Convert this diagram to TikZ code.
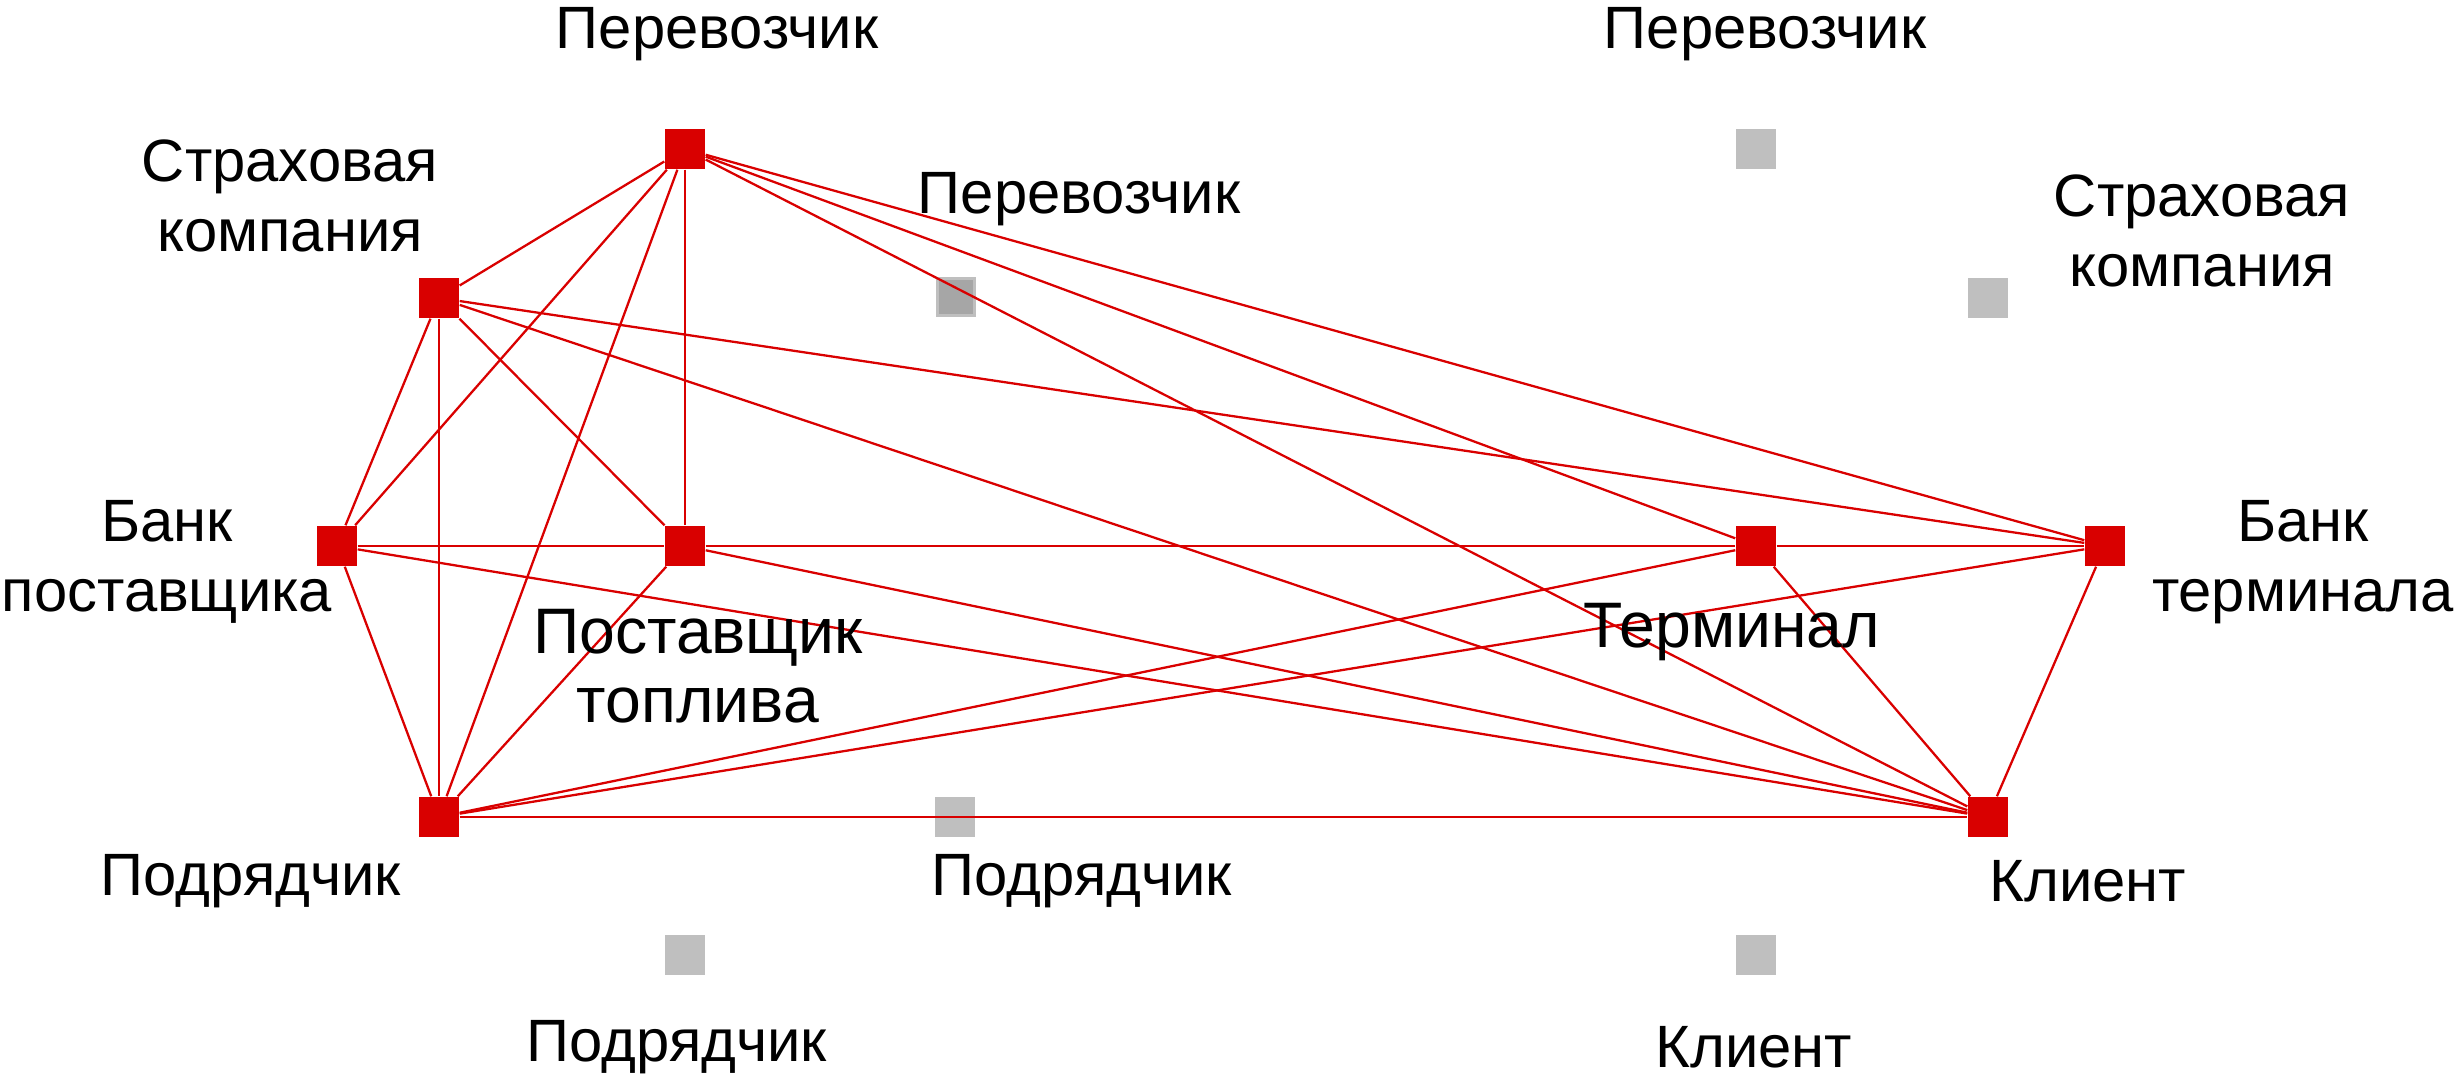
\documentclass[tikz,border=0pt]{standalone}
\usepackage{fontspec}
\setmainfont{Liberation Sans}
\definecolor{myred}{RGB}{217,0,0}
\definecolor{mygray}{RGB}{191,191,191}
\definecolor{mydark}{RGB}{166,166,166}
\tikzset{
    actor/.style={fill=myred, minimum size=4mm, inner sep=0pt},
    idle/.style={fill=mygray, minimum size=4mm, inner sep=0pt},
    link/.style={draw=myred, line width=0.65pt},
    lbl/.style={font=\fontsize{17}{20}\selectfont, align=center},
    biglbl/.style={font=\fontsize{18.3}{19.6}\selectfont, align=center}
}
\begin{document}
\begin{tikzpicture}
                    \useasboundingbox (0,0) rectangle (24.58,-10.81);

                    % idle squares
                    \node[idle] (gper) at (17.56,-1.49) {};
                    \node[idle] (gstrah) at (19.88,-2.98) {};
                    \node[idle, fill=mydark, draw=mygray, line width=0.8pt, minimum size=3.75mm] (gper2) at (9.56,-2.97) {};
                    \node[idle] (gpodr) at (9.55,-8.17) {};
                    \node[idle] (gpodr2) at (6.85,-9.55) {};
                    \node[idle] (gkl) at (17.56,-9.55) {};

                    \node[actor] (per) at (6.85,-1.49) {};
                    \node[actor] (strah) at (4.39,-2.98) {};
                    \node[actor] (bankp) at (3.37,-5.46) {};
                    \node[actor] (post) at (6.85,-5.46) {};
                    \node[actor] (podr) at (4.39,-8.17) {};
                    \node[actor] (term) at (17.56,-5.46) {};
                    \node[actor] (bankt) at (21.05,-5.46) {};
                    \node[actor] (kl) at (19.88,-8.17) {};

                    \foreach \a/\b in {per/strah, per/bankp, per/podr, per/post, per/term, per/bankt, per/kl,
                                       strah/bankp, strah/podr, strah/post, strah/bankt, strah/kl,
                                       bankp/post, bankp/podr, bankp/kl, post/podr, post/term, post/kl,
                                       podr/term, podr/bankt, podr/kl, term/bankt, term/kl, bankt/kl}
                        \draw[link] (\a) -- (\b);

                    \node[lbl] (tper) at (7.17,-0.34) {Перевозчик};
                    \node[lbl] (tstrah) at (2.90,-1.96) {Страховая\\компания};
                    \node[lbl] (tper2) at (10.79,-1.99) {Перевозчик};
                    \node[lbl] (tbankp) at (1.67,-5.62) {Банк\\поставщика};
                    \node[biglbl] (tpost) at (6.98,-6.66) {Поставщик\\топлива};
                    \node[lbl] (tpodr) at (2.51,-8.81) {Подрядчик};
                    \node[lbl] (tpodr2) at (10.82,-8.81) {Подрядчик};
                    \node[lbl] (tpodr3) at (6.77,-10.47) {Подрядчик};
                    \node[lbl] (tgper) at (17.65,-0.34) {Перевозчик};
                    \node[lbl] (tgstrah) at (22.02,-2.31) {Страховая\\компания};
                    \node[lbl] (tbankt) at (23.03,-5.62) {Банк\\терминала};
                    \node[biglbl] (tterm) at (17.32,-6.32) {Терминал};
                    \node[lbl] (tkl) at (20.88,-8.81) {Клиент};
                    \node[lbl] (tgkl) at (17.54,-10.47) {Клиент};

                \end{tikzpicture}
\end{document}
